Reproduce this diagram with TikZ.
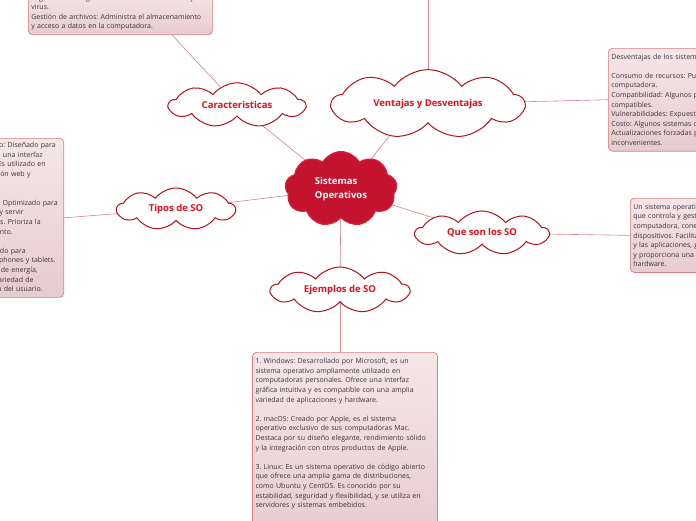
\documentclass[tikz,border=0pt]{standalone}
\usepackage{fontspec}
\setmainfont{Open Sans}
\frenchspacing
\usetikzlibrary{shapes.symbols,backgrounds,calc}
\definecolor{cloudborder}{HTML}{B5121F}
\definecolor{cloudtext}{HTML}{E3101E}
\definecolor{corefill}{HTML}{C3132F}
\definecolor{coreborder}{HTML}{E4203A}
\definecolor{boxborder}{HTML}{DC7B84}
\definecolor{boxtop}{HTML}{F6E6E8}
\definecolor{boxbot}{HTML}{E6CBCF}
\definecolor{boxtext}{HTML}{3A3637}
\definecolor{linkcol}{HTML}{D5848C}
\newcommand{\gapr}[1]{\hbox to #1{}}
\tikzset{
  topic/.style={cloud, cloud puffs=9, cloud puff arc=105, aspect=3.4,
    draw=cloudborder, line width=1pt, fill=white, text=cloudtext,
    font=\fontsize{9.5}{11}\selectfont\bfseries, inner sep=0pt},
  core/.style={cloud, cloud puffs=9, cloud puff arc=120, aspect=1.5,
    draw=coreborder, fill=corefill, line width=1pt, text=white,
    font=\fontsize{9.5}{14}\selectfont\bfseries, align=left, inner sep=0pt},
  infobox/.style={draw=boxborder, line width=0.7pt, rounded corners=4pt,
    top color=boxtop, bottom color=boxbot, text=boxtext,
    font=\fontsize{7}{9.6}\selectfont, align=left, inner xsep=3pt, inner ysep=4pt},
  link/.style={draw=linkcol, line width=0.6pt}
}
\begin{document}
\begin{tikzpicture}[x=1pt,y=-1pt]
\useasboundingbox (0,0) rectangle (696,520);
% topic clouds
\node[core, minimum width=112pt, minimum height=75pt] (cen) at (341,189) {Sistemas\\Operativos};
\node[topic, minimum width=136pt, minimum height=40pt] (car) at (237,105) {Caracteristicas};
\node[topic, minimum width=192pt, minimum height=42pt] (ven) at (428,104) {Ventajas y Desventajas};
\node[topic, minimum width=118pt, minimum height=42pt] (tip) at (176,209) {Tipos de SO};
\node[topic, minimum width=133pt, minimum height=40pt] (que) at (482,233) {Que son los SO};
\node[topic, minimum width=138pt, minimum height=46pt] (eje) at (340,290) {Ejemplos de SO};
% info boxes
\node[infobox, text width=178pt, anchor=south west] (tlbox) at (28,35)
 {Seguridad: Protege el sistema contra amenazas y\\virus.\\Gestión de archivos: Administra el almacenamiento\\y acceso a datos en la computadora.};
\node[infobox, text width=240pt, anchor=north west, inner ysep=5.5pt] (rbox) at (608,48)
 {Desventajas de los sistemas operativos:\\\mbox{}\\Consumo de recursos: Pueden requerir muchos recursos de la\\computadora.\\Compatibilidad: Algunos programas o dispositivos no son\\compatibles.\\Vulnerabilidades: Expuestos a virus y ataques informáticos.\\Costo: Algunos sistemas operativos requieren licencias de pago.\\Actualizaciones forzadas pueden causar interrupciones e\\inconvenientes.};
\node[infobox, text width=240pt, anchor=north east, align=right] (lbox) at (64,138)
 {1. Sistemas operativos de escritorio: Diseñado para\gapr{5pt}\\
  computadoras personales, con una interfaz\gapr{18pt}\\
  gráfica amigable. Es utilizado en\gapr{15pt}\\
  oficinas, hogares, navegación web y\gapr{30pt}\\
  entretenimiento.\gapr{75pt}\\
  \mbox{}\\
  2. Sistemas operativos de servidor: Optimizado para\gapr{3pt}\\
  gestionar recursos de red y servir\gapr{37pt}\\
  aplicaciones a múltiples usuarios. Prioriza la\gapr{20pt}\\
  estabilidad, la seguridad y el rendimiento.\gapr{48pt}\\
  \mbox{}\\
  3. Sistemas operativos móviles: Diseñado para\gapr{35pt}\\
  dispositivos como smartphones y tablets.\gapr{5pt}\\
  Optimiza el uso de batería, consumo de energía,\gapr{23pt}\\
  conectividad y ofrece una gran variedad de\gapr{27pt}\\
  aplicaciones para la experiencia del usuario.\gapr{18pt}};
\node[infobox, text width=220pt, anchor=north west, inner ysep=5.5pt] (qbox) at (630,198)
 {Un sistema operativo es un software fundamental\\que controla y gestiona los recursos de la\\computadora, conectando el hardware con los\\dispositivos. Facilita la interacción entre el usuario\\y las aplicaciones, gestiona la memoria\\y proporciona una interfaz para acceder al\\hardware.};
\node[infobox, text width=179pt, anchor=north, inner ysep=6pt] (bbox) at (345,352)
 {1. Windows: Desarrollado por Microsoft, es un\\sistema operativo ampliamente utilizado en\\computadoras personales. Ofrece una interfaz\\gráfica intuitiva y es compatible con una amplia\\variedad de aplicaciones y hardware.\\\mbox{}\\2. macOS: Creado por Apple, es el sistema\\operativo exclusivo de sus computadoras Mac.\\Destaca por su diseño elegante, rendimiento sólido\\y la integración con otros productos de Apple.\\\mbox{}\\3. Linux: Es un sistema operativo de código abierto\\que ofrece una amplia gama de distribuciones,\\como Ubuntu y CentOS. Es conocido por su\\estabilidad, seguridad y flexibilidad, y se utiliza en\\servidores y sistemas embebidos.\\\mbox{}\\\mbox{}\\\mbox{}};
\coordinate (vtop) at (428,-5);
% connectors
\begin{scope}[on background layer]
\fill[white] (0,0) rectangle (696,520);
\draw[link] (car.center) -- (cen.center);
\draw[link] ([xshift=-13pt]ven.center) -- ([xshift=6pt]cen.center);
\draw[link] (tip.center) -- (cen.center);
\draw[link] (que.center) -- (cen.center);
\draw[link] (eje.center) -- (cen.center);
\draw[link] (car.center) -- ($(tlbox.south west)!0.78!(tlbox.south east)$);
\draw[link] (ven.center) -- (vtop);
\draw[link] (ven.center) -- (rbox.west);
\draw[link] (que.center) -- (qbox.west);
\draw[link] (tip.center) -- (lbox.east);
\draw[link] (eje.center) -- (bbox.north -| eje.center);
\end{scope}
\end{tikzpicture}
\end{document}
